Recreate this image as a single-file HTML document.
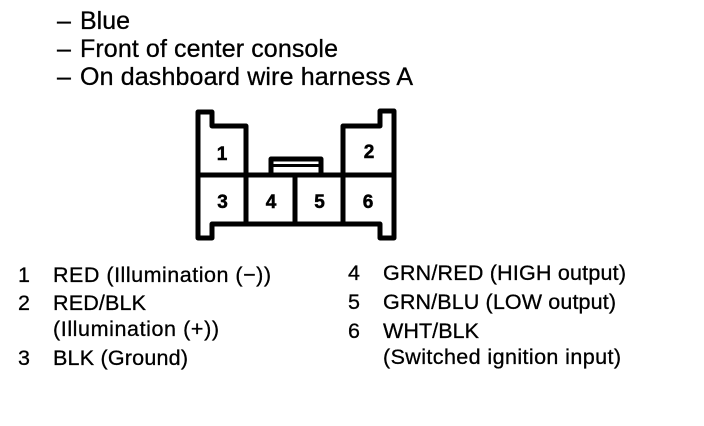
<!DOCTYPE html>
<html>
<head>
<meta charset="utf-8">
<style>
html,body{margin:0;padding:0;background:#fff}
svg{display:block}
text{font-family:"Liberation Sans",sans-serif;fill:#000;stroke:#000;stroke-width:.3px}
.t{font-size:25px}
.l{font-size:21.5px}
.d{font-weight:bold;font-size:19px;text-anchor:middle;stroke-width:.5px}
</style>
</head>
<body>
<svg width="704" height="426" viewBox="0 0 704 426" xmlns="http://www.w3.org/2000/svg">
<rect width="704" height="426" fill="#fff"/>
<text class="t" x="57" y="29">–</text><text class="t" x="80" y="29" textLength="50" lengthAdjust="spacing">Blue</text>
<text class="t" x="57" y="57">–</text><text class="t" x="80" y="57" textLength="258" lengthAdjust="spacing">Front of center console</text>
<text class="t" x="57" y="85">–</text><text class="t" x="80" y="85" textLength="333" lengthAdjust="spacing">On dashboard wire harness A</text>

<g fill="none" stroke="#000" stroke-width="5" stroke-linejoin="round" stroke-linecap="round">
<path d="M198 112H212V126H246V175M198 112V238H212V224H380V238H394V111H380V126H343V175"/>
<path d="M198 175H394M246 175V224M295 175V224M343 175V224"/>
<path d="M271 174V159H321V174" stroke-width="5"/>
<path d="M273 165.500H320" stroke-width="3"/>
</g>

<text class="d" x="222" y="160">1</text>
<text class="d" x="369" y="158">2</text>
<text class="d" x="222.500" y="208">3</text>
<text class="d" x="271" y="208">4</text>
<text class="d" x="319.500" y="208">5</text>
<text class="d" x="368" y="208">6</text>

<text class="l" x="18" y="282">1</text><text class="l" x="53" y="282" textLength="218" lengthAdjust="spacing">RED (Illumination (−))</text>
<text class="l" x="18" y="310">2</text><text class="l" x="53" y="310" textLength="93" lengthAdjust="spacing">RED/BLK</text>
<text class="l" x="53" y="336" textLength="166" lengthAdjust="spacing">(Illumination (+))</text>
<text class="l" x="18" y="365">3</text><text class="l" x="53" y="365" textLength="135" lengthAdjust="spacing">BLK (Ground)</text>
<text class="l" x="348" y="280">4</text><text class="l" x="383" y="280" textLength="243" lengthAdjust="spacing">GRN/RED (HIGH output)</text>
<text class="l" x="348" y="309">5</text><text class="l" x="383" y="309" textLength="233" lengthAdjust="spacing">GRN/BLU (LOW output)</text>
<text class="l" x="348" y="338">6</text><text class="l" x="383" y="338" textLength="96" lengthAdjust="spacing">WHT/BLK</text>
<text class="l" x="383" y="364" textLength="238" lengthAdjust="spacing">(Switched ignition input)</text>
</svg>
</body>
</html>
